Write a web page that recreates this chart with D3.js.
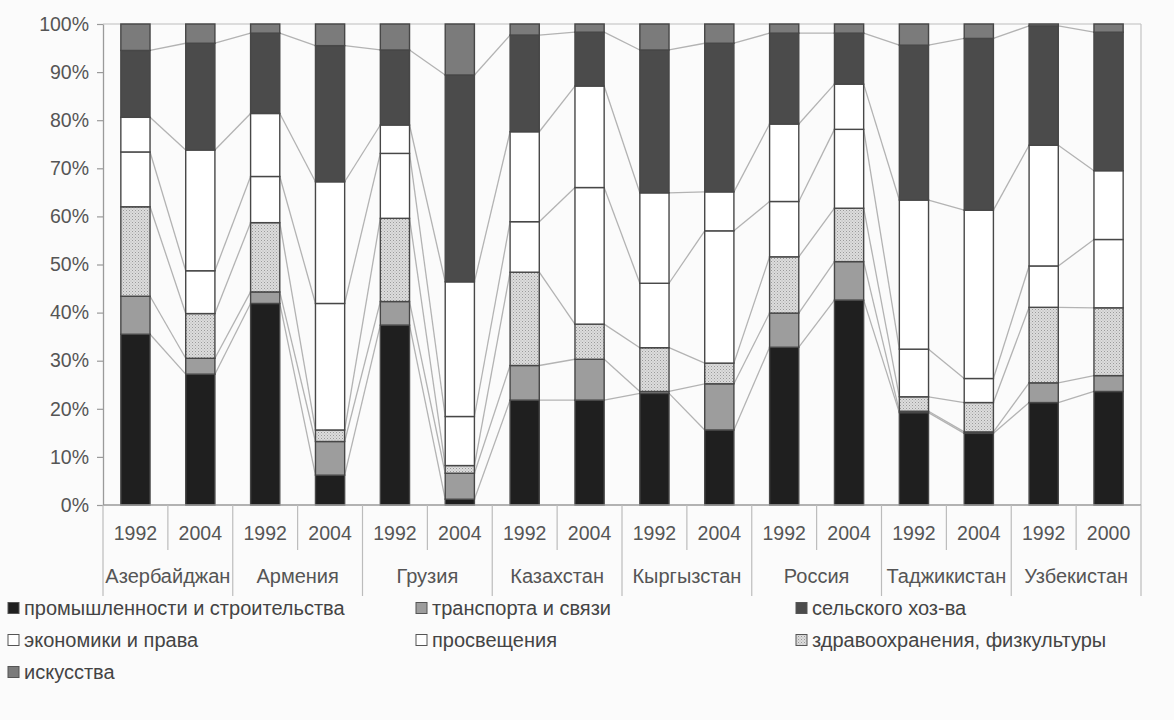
<!DOCTYPE html>
<html><head><meta charset="utf-8">
<script src="https://cdn.jsdelivr.net/npm/d3@7"></script>
<style>
html,body{margin:0;padding:0;background:#fbfbfb;}
svg{display:block;font-family:"Liberation Sans",Arial,sans-serif;}
</style></head>
<body>
<svg id="chart" width="1174" height="720"></svg>
<script>
// ---- data ----
const years = ["1992","2004","1992","2004","1992","2004","1992","2004","1992","2004","1992","2004","1992","2004","1992","2000"];
const countries = ["Азербайджан","Армения","Грузия","Казахстан","Кыргызстан","Россия","Таджикистан","Узбекистан"];
const yTicks = [0,10,20,30,40,50,60,70,80,90,100];

const promyshl  = [35.5,27.2,41.9, 6.2,37.4, 1.2,21.8,21.8,23.2,15.6,32.8,42.6,19.2,14.9,21.3,23.6];
const transport = [ 7.9, 3.3, 2.4, 7.0, 4.9, 5.4, 7.2, 8.5, 0.4, 9.6, 7.1, 8.0, 0.3, 0.3, 4.1, 3.3];
const zdrav     = [18.6, 9.3,14.4, 2.4,17.3, 1.6,19.4, 7.3, 9.1, 4.3,11.7,11.1, 3.0, 6.1,15.7,14.1];
const ekonom    = [11.4, 8.9, 9.6,26.3,13.5,10.2,10.5,28.4,13.4,27.5,11.5,16.4, 9.9, 5.0, 8.6,14.2];
const prosv     = [ 7.2,25.1,13.1,25.3, 5.9,28.0,18.7,21.1,18.8, 8.1,16.1, 9.4,31.0,35.0,25.1,14.3];
const selsk     = [13.9,22.2,16.7,28.3,15.6,43.0,20.1,11.2,29.7,30.9,18.9,10.6,32.2,35.7,24.8,28.8];
const iskus     = [ 5.5, 4.0, 1.9, 4.5, 5.4,10.6, 2.3, 1.7, 5.4, 4.0, 1.9, 1.9, 4.4, 3.0, 0.4, 1.7];

// series in stacking order (bottom -> top)
const seriesNames = ["промышленности и строительства","транспорта и связи","здравоохранения, физкультуры","экономики и права","просвещения","сельского хоз-ва","искусства"];
const seriesValues = [promyshl, transport, zdrav, ekonom, prosv, selsk, iskus];
// legend order (as in reference, row-major, 3 columns)
const legendOrder = ["промышленности и строительства","транспорта и связи","сельского хоз-ва","экономики и права","просвещения","здравоохранения, физкультуры","искусства"];

// ---- build table ----
const keys = seriesNames;
const table = years.map((y,i)=>{
  const row = {idx:i, year:y};
  keys.forEach((k,j)=>row[k]=seriesValues[j][i]);
  return row;
});
const stacked = d3.stack().keys(keys)(table);

const fills = {
  "промышленности и строительства":"#1f1f1f",
  "транспорта и связи":"#9d9d9d",
  "здравоохранения, физкультуры":"url(#dots)",
  "экономики и права":"#ffffff",
  "просвещения":"#ffffff",
  "сельского хоз-ва":"#4b4b4b",
  "искусства":"#7b7b7b"
};

const svg = d3.select("#chart");
const defs = svg.append("defs");
const pat = defs.append("pattern").attr("id","dots").attr("patternUnits","userSpaceOnUse")
  .attr("width",3).attr("height",3);
pat.append("rect").attr("width",3).attr("height",3).attr("fill","#dcdcdc");
pat.append("rect").attr("x",0).attr("y",0).attr("width",1).attr("height",1).attr("fill","#9a9a9a");
pat.append("rect").attr("x",1.5).attr("y",1.5).attr("width",1).attr("height",1).attr("fill","#b0b0b0");

const L=103, R=1141, T=24, B=505;
const x = d3.scaleBand().domain(d3.range(years.length)).range([L,R]).paddingInner(0.55).paddingOuter(0.275);
const xc = d3.scaleBand().domain(countries).range([L,R]);
const y = d3.scaleLinear().domain([0,100]).range([B,T]);

// plot border (top & right)
svg.append("line").attr("x1",L).attr("x2",R).attr("y1",T).attr("y2",T).attr("stroke","#bdbdbd").attr("stroke-width",1.2);
svg.append("line").attr("x1",R).attr("x2",R).attr("y1",T).attr("y2",B).attr("stroke","#c4c4c4").attr("stroke-width",1.2);

// y axis
const yAxis = svg.append("g").attr("transform",`translate(${L},0)`)
  .call(d3.axisLeft(y).tickValues(yTicks).tickFormat(d=>d+"%").tickSize(6).tickSizeOuter(0));
yAxis.select(".domain").attr("stroke","#9a9a9a").attr("stroke-width",1.3);
yAxis.selectAll(".tick line").attr("stroke","#9a9a9a").attr("stroke-width",1.2);
yAxis.selectAll(".tick text").attr("fill","#555").attr("font-size",19.5).attr("x",-14)
  .attr("font-family","Liberation Sans, Arial, sans-serif");

// series lines
const bw = x.bandwidth();
const lineG = svg.append("g");
stacked.slice(0, stacked.length-1).forEach(s=>{
  for(let i=0;i<s.length-1;i++){
    lineG.append("line")
      .attr("x1",x(i)+bw).attr("x2",x(i+1))
      .attr("y1",y(s[i][1])).attr("y2",y(s[i+1][1]))
      .attr("stroke","#b3b3b3").attr("stroke-width",1.3);
  }
});

// bars
const barG = svg.append("g");
stacked.forEach(s=>{
  barG.selectAll(null).data(s).enter().append("rect")
    .attr("x",(d,i)=>x(i)).attr("width",bw)
    .attr("y",d=>y(d[1])).attr("height",d=>Math.max(0,y(d[0])-y(d[1])))
    .attr("fill",fills[s.key]).attr("stroke","#474747").attr("stroke-width",1.4);
});

// x axis line
svg.append("line").attr("x1",L).attr("x2",R).attr("y1",B).attr("y2",B).attr("stroke","#9a9a9a").attr("stroke-width",1.3);

// separators
const sepG = svg.append("g").attr("stroke","#bcbcbc").attr("stroke-width",1.2);
const step = x.step();
years.forEach((yr,i)=>{
  if(i%2===1){
    const xx = x(i) - (step - bw)/2;
    sepG.append("line").attr("x1",xx).attr("x2",xx).attr("y1",B).attr("y2",550);
  }
});
countries.forEach(c=>{
  sepG.append("line").attr("x1",xc(c)).attr("x2",xc(c)).attr("y1",B).attr("y2",596);
});
sepG.append("line").attr("x1",R).attr("x2",R).attr("y1",B).attr("y2",596);

// year labels
svg.append("g").selectAll("text").data(years).enter().append("text")
  .attr("x",(d,i)=>x(i)+bw/2).attr("y",540)
  .attr("text-anchor","middle").attr("font-size",19.5).attr("fill","#555").text(d=>d);
// country labels
svg.append("g").selectAll("text").data(countries).enter().append("text")
  .attr("x",d=>xc(d)+xc.bandwidth()/2).attr("y",583)
  .attr("text-anchor","middle").attr("font-size",20).attr("fill","#555").text(d=>d);

// legend
const colX = [8,416,796];
const rowY = [608,640,672];
const lg = svg.append("g");
legendOrder.forEach((name,i)=>{
  const cx = colX[i%3], cy = rowY[Math.floor(i/3)];
  lg.append("rect").attr("x",cx).attr("y",cy-5.5).attr("width",11).attr("height",11)
    .attr("fill",fills[name]).attr("stroke","#555").attr("stroke-width",1);
  lg.append("text").attr("x",cx+16).attr("y",cy+7).attr("font-size",20).attr("fill","#444").text(name);
});
</script>
</body></html>
